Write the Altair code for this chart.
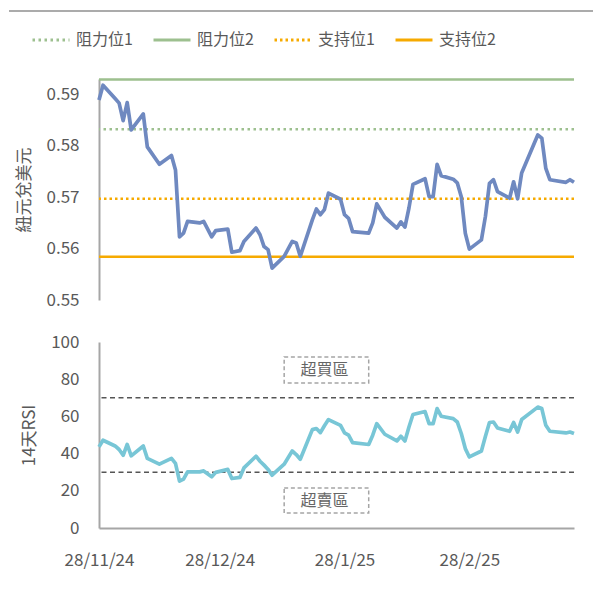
import altair as alt
import pandas as pd

# ---------------- data ----------------
dates = [
    "2024-11-28", "2024-11-29", "2024-12-02", "2024-12-03", "2024-12-04", "2024-12-05", "2024-12-06",
    "2024-12-09", "2024-12-10", "2024-12-13", "2024-12-16", "2024-12-17", "2024-12-18", "2024-12-19", "2024-12-20",
    "2024-12-23", "2024-12-24", "2024-12-26", "2024-12-27", "2024-12-30", "2024-12-31", "2025-01-02", "2025-01-03",
    "2025-01-06", "2025-01-07", "2025-01-08", "2025-01-09", "2025-01-10", "2025-01-13", "2025-01-15", "2025-01-16", "2025-01-17",
    "2025-01-20", "2025-01-21", "2025-01-22", "2025-01-23", "2025-01-24", "2025-01-27", "2025-01-28", "2025-01-29", "2025-01-30",
    "2025-02-03", "2025-02-04", "2025-02-05", "2025-02-07", "2025-02-10", "2025-02-11", "2025-02-12", "2025-02-13", "2025-02-14",
    "2025-02-17", "2025-02-18", "2025-02-19", "2025-02-20", "2025-02-21", "2025-02-24", "2025-02-25", "2025-02-26", "2025-02-27", "2025-02-28",
    "2025-03-03", "2025-03-04", "2025-03-05", "2025-03-06", "2025-03-07", "2025-03-10", "2025-03-11", "2025-03-12", "2025-03-13",
    "2025-03-17", "2025-03-18", "2025-03-19", "2025-03-20", "2025-03-24", "2025-03-25", "2025-03-26",
]
fx_rate = [
    0.5889, 0.5918, 0.5892, 0.5883, 0.5849, 0.5884, 0.5831,
    0.5862, 0.5798, 0.5764, 0.5781, 0.5753, 0.5623, 0.5630, 0.5653,
    0.5650, 0.5653, 0.5623, 0.5635, 0.5638, 0.5593, 0.5596, 0.5614,
    0.5640, 0.5627, 0.5604, 0.5598, 0.5562, 0.5585, 0.5614, 0.5611, 0.5585,
    0.5656, 0.5677, 0.5666, 0.5676, 0.5708, 0.5696, 0.5666, 0.5659, 0.5633,
    0.5630, 0.5650, 0.5687, 0.5661, 0.5640, 0.5652, 0.5642, 0.5679, 0.5725,
    0.5736, 0.5701, 0.5701, 0.5764, 0.5742, 0.5735, 0.5728, 0.5701, 0.5630, 0.5599,
    0.5617, 0.5663, 0.5727, 0.5734, 0.5711, 0.5698, 0.5730, 0.5697, 0.5747,
    0.5821, 0.5815, 0.5756, 0.5734, 0.5729, 0.5734, 0.5729,
]
rsi_14 = [
    43.6, 47.2, 44.1, 42.2, 39.1, 44.9, 38.8,
    44.1, 37.4, 34.3, 37.4, 34.7, 25.2, 26.3, 30.2,
    30.2, 30.7, 27.5, 29.9, 31.5, 26.6, 27.2, 32.3,
    38.6, 35.9, 33.8, 31.5, 28.4, 34.3, 41.4, 39.5, 37.0,
    52.9, 53.5, 51.3, 55.0, 58.3, 55.2, 51.1, 49.9, 45.9,
    44.9, 49.9, 56.1, 50.4, 46.8, 49.3, 46.8, 54.3, 61.0,
    62.6, 56.1, 56.1, 64.2, 60.1, 58.8, 57.0, 50.8, 42.7, 38.2,
    41.4, 49.3, 56.7, 57.0, 53.8, 52.0, 56.7, 51.6, 58.3,
    65.0, 64.2, 55.2, 52.0, 51.1, 51.6, 50.8,
]

level_names = ["阻力位1", "阻力位2", "支持位1", "支持位2"]
level_values = [0.5832, 0.5929, 0.5697, 0.5584]
level_colors = ["#9DC08F", "#9DC08F", "#F6AA00", "#F6AA00"]
level_dashes = [[2.5, 3.5], [1, 0], [2.5, 3], [1, 0]]

rsi_levels = [70, 30]

zone_labels = ["超買區", "超賣區"]
zone_start = ["2025-01-13", "2025-01-13"]
zone_end = ["2025-02-03", "2025-02-03"]
zone_mid = ["2025-01-23", "2025-01-23"]
zone_top = [92, 21.5]
zone_bottom = [78, 8]
zone_text_y = [85, 14.7]

x_tick_dates = [(2024, 11, 28), (2024, 12, 28), (2025, 1, 28), (2025, 2, 28)]
fx_ticks = [0.55, 0.56, 0.57, 0.58, 0.59]
rsi_ticks = [0, 20, 40, 60, 80, 100]

# ---------------- tables ----------------
series = pd.DataFrame({"date": dates, "fx": fx_rate, "rsi": rsi_14})
levels = pd.DataFrame({"name": level_names, "value": level_values})
rsi_lv = pd.DataFrame({"v": rsi_levels})
zones = pd.DataFrame({"label": zone_labels, "start": zone_start, "end": zone_end,
                      "mid": zone_mid, "top": zone_top, "bottom": zone_bottom, "ty": zone_text_y})

FONT = "Noto Sans CJK TC"
TXT = "#595959"

def dt(t):
    return alt.DateTime(year=t[0], month=t[1], date=t[2], utc=True)

x_scale = alt.Scale(type="utc", domain=[dt((2024, 11, 28)), dt((2025, 3, 26))])

# ---------------- top panel ----------------
top_rule = alt.Chart(alt.Data(values=[{"a": 1}])).mark_rule(color="#ababab", strokeWidth=2).encode(
    x=alt.value(-90), x2=alt.value(494), y=alt.value(-68)
)

fx_y = alt.Scale(domain=[0.55, 0.593], nice=False, zero=False)
fx_axis = alt.Axis(values=fx_ticks, format=".2f", title="紐元兌美元")

def make_legend():
    return alt.Legend(title=None, orient="none", legendX=-68, legendY=-59,
                      direction="horizontal", columns=4, symbolType="stroke",
                      symbolSize=1369, symbolStrokeWidth=3, labelFontSize=16,
                      labelColor=TXT, labelFont=FONT, columnPadding=14, labelOffset=5)

level_rules = alt.Chart(levels).mark_rule(strokeWidth=2.5).encode(
    y=alt.Y("value:Q", scale=fx_y, axis=fx_axis),
    color=alt.Color("name:N", scale=alt.Scale(domain=level_names, range=level_colors),
                    legend=make_legend()),
    strokeDash=alt.StrokeDash("name:N", scale=alt.Scale(domain=level_names, range=level_dashes),
                              legend=make_legend()),
)

fx_line = alt.Chart(series).mark_line(color="#6F89C0", strokeWidth=3.7, strokeJoin="round").encode(
    x=alt.X("date:T", scale=x_scale, axis=None),
    y=alt.Y("fx:Q", scale=fx_y, axis=fx_axis),
)

top = alt.layer(level_rules, fx_line, top_rule).properties(width=475, height=221)

# ---------------- bottom panel ----------------
rsi_y = alt.Scale(domain=[0, 100], nice=False)
rsi_axis = alt.Axis(values=rsi_ticks, title="14天RSI")

x_axis = alt.Axis(values=[dt(t) for t in x_tick_dates],
                  labelExpr="utcFormat(datum.value, '%-d/%-m/%y')",
                  labelFlush=False, title=None, labelPadding=24)

rsi_rules = alt.Chart(rsi_lv).mark_rule(color="#555555", strokeWidth=1.5, strokeDash=[5, 3.5]).encode(
    y=alt.Y("v:Q", scale=rsi_y, axis=rsi_axis)
)

zone_box = alt.Chart(zones).mark_rect(fill="white", fillOpacity=0, stroke="#a5a5a5",
                                      strokeWidth=1.5, strokeDash=[4, 2.7]).encode(
    x=alt.X("start:T", scale=x_scale, axis=x_axis),
    x2="end:T",
    y=alt.Y("top:Q", scale=rsi_y, axis=rsi_axis),
    y2="bottom:Q",
)

zone_text = alt.Chart(zones).mark_text(font=FONT, fontSize=16, color="#666666").encode(
    x=alt.X("mid:T", scale=x_scale, axis=x_axis),
    y=alt.Y("ty:Q", scale=rsi_y, axis=rsi_axis),
    text="label:N",
)

rsi_line = alt.Chart(series).mark_line(color="#78C6D6", strokeWidth=3.7, strokeJoin="round").encode(
    x=alt.X("date:T", scale=x_scale, axis=x_axis),
    y=alt.Y("rsi:Q", scale=rsi_y, axis=rsi_axis),
)

bottom = alt.layer(rsi_rules, zone_box, zone_text, rsi_line).properties(width=475, height=186)

chart = alt.vconcat(top, bottom, spacing=42, bounds="flush").resolve_legend(
    color="independent", strokeDash="independent"
).properties(
    padding={"left": 0, "top": 2, "right": 0, "bottom": 6}
).configure_view(stroke=None).configure_axis(
    domainColor="#a6a6a6", domainWidth=2, ticks=False, grid=False,
    labelFont=FONT, labelFontSize=17, labelColor=TXT, labelPadding=20,
    titleFont=FONT, titleFontSize=17, titleColor=TXT, titleFontWeight="normal", titlePadding=12,
)

chart.save("out.html", embed_options={"renderer": "svg", "actions": False})
